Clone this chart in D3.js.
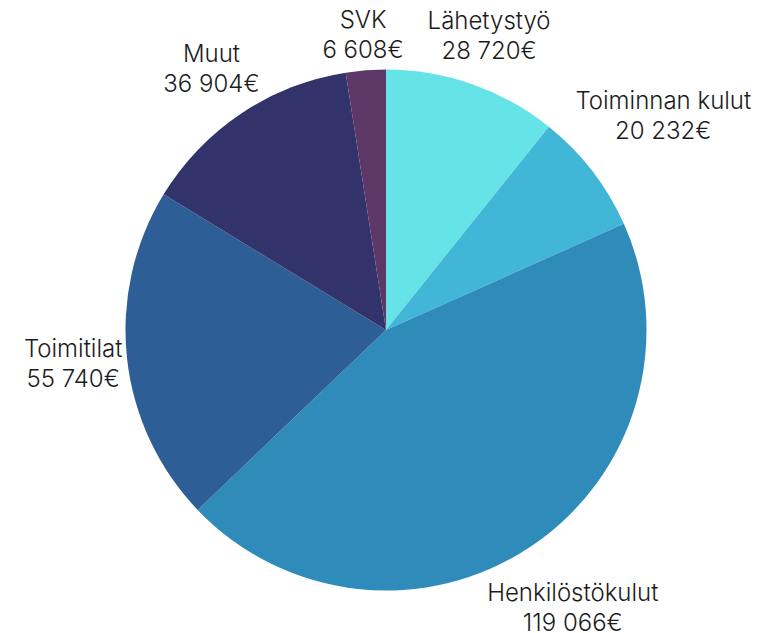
<!DOCTYPE html>
<html>
<head>
<meta charset="utf-8">
<script src="https://cdn.jsdelivr.net/npm/d3@7"></script>
<style>
  body { margin: 0; background: #fff; }
  svg text { font-family: Inter, "Noto Sans", sans-serif; fill: #1c1c1c; font-weight: 300; }
</style>
</head>
<body>
<script>
var width = 764;
var height = 633;

// data, clockwise from 12 o'clock
var categories = ["Lähetystyö", "Toiminnan kulut", "Henkilöstökulut", "Toimitilat", "Muut", "SVK"];
var values = [28720, 20232, 119066, 55740, 36904, 6608];
var colors = ["#66e3e7", "#42b6d6", "#2e8bba", "#2d5e96", "#33336b", "#5d3766"];

var cx = 386, cy = 330, radius = 260.5;
var lineHeight = 30;

var fmt = d3.formatLocale({ decimal: ",", thousands: "\u00a0", grouping: [3], currency: ["", "€"] }).format(",d");

var svg = d3.select("body").append("svg")
    .attr("width", width)
    .attr("height", height);

var pie = d3.pie().sort(null).value(function(d) { return d; });
var arcs = pie(values);

var arc = d3.arc().innerRadius(0).outerRadius(radius);

var g = svg.append("g").attr("transform", "translate(" + cx + "," + cy + ")");

g.selectAll("path")
    .data(arcs)
    .enter()
    .append("path")
    .attr("d", arc)
    .attr("fill", function(d, i) { return colors[i]; });

// labels: two lines, pushed outward until the box clears the pie
var labels = g.selectAll(".lbl")
    .data(arcs)
    .enter()
    .append("text")
    .attr("class", "lbl")
    .attr("text-anchor", "middle")
    .attr("font-size", 24);

labels.append("tspan")
    .attr("x", 0)
    .attr("y", -lineHeight / 2 + 8)
    .text(function(d, i) { return categories[i]; });
labels.append("tspan")
    .attr("x", 0)
    .attr("y", lineHeight / 2 + 8)
    .text(function(d) { return fmt(d.value) + "€"; });

labels.attr("transform", function(d) {
    var a = (d.startAngle + d.endAngle) / 2;
    var bb = this.getBBox();
    var w = bb.width, h = 60;
    var r = radius + 2 + Math.abs(Math.sin(a)) * w / 2 + Math.abs(Math.cos(a)) * h / 2;
    return "translate(" + (Math.sin(a) * r) + "," + (-Math.cos(a) * r) + ")";
});
</script>
</body>
</html>
